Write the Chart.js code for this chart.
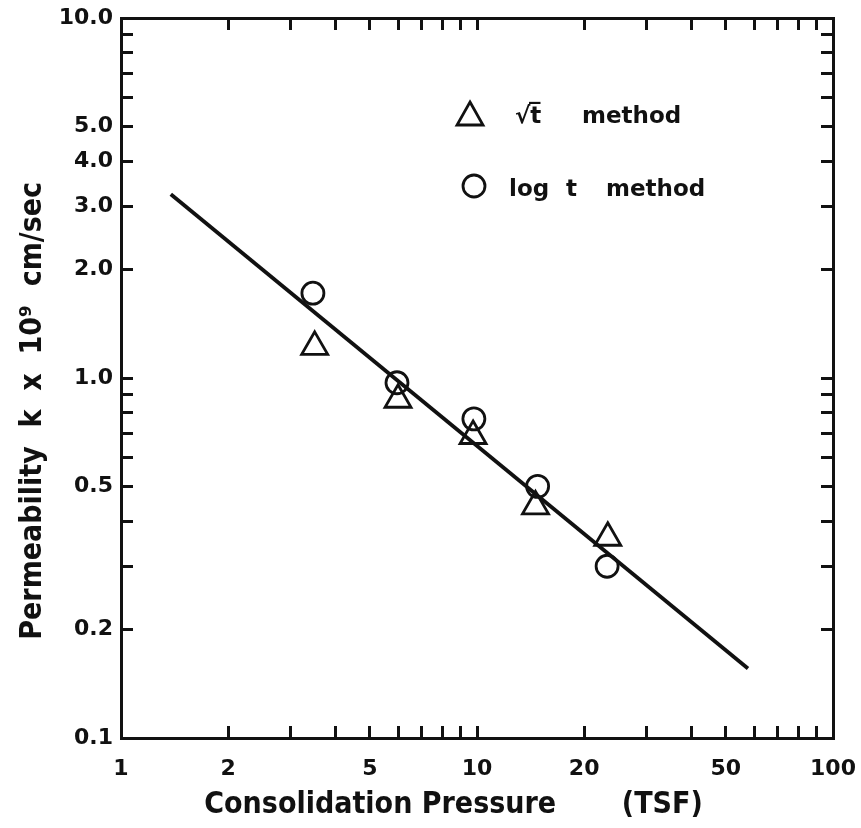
<!DOCTYPE html>
<html>
<head>
<meta charset="utf-8">
<script src="https://cdn.jsdelivr.net/npm/chart.js@4.4.1/dist/chart.umd.min.js"></script>
<style>
  body { margin: 0; background: #fff; }
</style>
</head>
<body>
<canvas id="permChart" width="861" height="828"></canvas>
<script>
// data (log-log)
const sqrtPressure = [3.5, 6.0, 9.75, 14.6, 23.3];
const sqrtPerm = [1.22, 0.87, 0.69, 0.44, 0.36];
const logPressure = [3.46, 5.96, 9.8, 14.8, 23.2];
const logPerm = [1.72, 0.97, 0.77, 0.50, 0.30];
const fitPressure = [1.38, 57.7];
const fitPerm = [3.24, 0.156];

const xTicks = [1, 2, 3, 4, 5, 6, 7, 8, 9, 10, 20, 30, 40, 50, 60, 70, 80, 90, 100];
const xLabels = [1, 2, 5, 10, 20, 50, 100];
const yTicks = [0.1, 0.2, 0.3, 0.4, 0.5, 0.6, 0.7, 0.8, 0.9, 1, 2, 3, 4, 5, 6, 7, 8, 9, 10];
const yLabels = [0.1, 0.2, 0.5, 1, 2, 3, 4, 5, 10];

const ink = "#111";
const numFont = { family: "DejaVu Sans", size: 22, weight: "bold" };
const titleFont = { family: "'DejaVu Sans Condensed', 'DejaVu Sans'", size: 30, weight: "bold" };

function pairs(xs, ys) {
  return xs.map((x, i) => ({ x: x, y: ys[i] }));
}

// fixed axis size, and no extra room for overhanging labels
function fixSize(w, h) {
  return (s) => {
    if (w !== null) s.width = w;
    if (h !== null) s.height = h;
    s.paddingLeft = s.paddingRight = s.paddingTop = s.paddingBottom = 0;
  };
}

// inward ticks on every side, no grid
const tickGrid = { drawOnChartArea: false, tickLength: -12, tickWidth: 3, tickColor: ink };
const frame = { display: true, width: 3, color: ink };

// key in the upper right of the plot
const keyPlugin = {
  id: "key",
  afterDraw(chart) {
    const ctx = chart.ctx;
    ctx.save();
    ctx.strokeStyle = ink;
    ctx.lineWidth = 2.8;
    ctx.beginPath();
    ctx.moveTo(470, 102);
    ctx.lineTo(483, 125);
    ctx.lineTo(457, 125);
    ctx.closePath();
    ctx.stroke();
    ctx.beginPath();
    ctx.arc(474, 186, 11, 0, Math.PI * 2);
    ctx.stroke();
    ctx.fillStyle = ink;
    ctx.font = "bold 23px 'DejaVu Sans'";
    ctx.textBaseline = "alphabetic";
    ctx.fillText("\u221At\u0305", 515, 123);
    ctx.fillText("method", 582, 123);
    ctx.fillText("log", 509, 196);
    ctx.fillText("t", 566, 196);
    ctx.fillText("method", 606, 196);
    ctx.restore();
  }
};

new Chart(document.getElementById("permChart"), {
  type: "scatter",
  data: {
    datasets: [
      {
        label: "fit",
        data: pairs(fitPressure, fitPerm),
        showLine: true,
        borderColor: ink,
        borderWidth: 3.8,
        pointRadius: 0,
      },
      {
        label: "\u221At method",
        data: pairs(sqrtPressure, sqrtPerm),
        pointStyle: "triangle",
        pointRadius: 15,
        borderColor: ink,
        borderWidth: 2.8,
        backgroundColor: "rgba(0,0,0,0)",
      },
      {
        label: "log t method",
        data: pairs(logPressure, logPerm),
        pointStyle: "circle",
        pointRadius: 11,
        borderColor: ink,
        borderWidth: 2.8,
        backgroundColor: "rgba(0,0,0,0)",
      },
    ],
  },
  options: {
    responsive: false,
    animation: false,
    devicePixelRatio: 1,
    layout: { padding: { top: 18, right: 28, left: 0, bottom: 0 } },
    plugins: { legend: { display: false }, tooltip: { enabled: false } },
    scales: {
      x: {
        type: "logarithmic",
        position: "bottom",
        min: 1,
        max: 100,
        afterBuildTicks: (s) => { s.ticks = xTicks.map((v) => ({ value: v })); },
        afterFit: fixSize(null, 90),
        grid: tickGrid,
        border: frame,
        ticks: {
          autoSkip: false,
          maxRotation: 0,
          padding: 30,
          color: ink,
          font: numFont,
          callback: (v) => (xLabels.includes(v) ? String(v) : ""),
        },
        title: {
          display: true,
          text: "Consolidation Pressure       (TSF)     ",
          color: ink,
          font: titleFont,
          padding: { top: 0, bottom: 5 },
        },
      },
      x2: {
        type: "logarithmic",
        position: "top",
        min: 1,
        max: 100,
        afterBuildTicks: (s) => { s.ticks = xTicks.map((v) => ({ value: v })); },
        afterFit: fixSize(null, 0),
        grid: tickGrid,
        border: frame,
        ticks: { display: false },
      },
      y: {
        type: "logarithmic",
        position: "left",
        min: 0.1,
        max: 10,
        afterBuildTicks: (s) => { s.ticks = yTicks.map((v) => ({ value: v })); },
        afterFit: fixSize(121, null),
        grid: tickGrid,
        border: frame,
        ticks: {
          autoSkip: false,
          padding: 20,
          color: ink,
          font: numFont,
          callback: (v) => (yLabels.includes(v) ? v.toFixed(1) : ""),
        },
        title: {
          display: true,
          text: "Permeability  k  x  10\u2079  cm/sec       ",
          color: ink,
          font: titleFont,
          padding: { top: 15, bottom: 0 },
        },
      },
      y2: {
        type: "logarithmic",
        position: "right",
        min: 0.1,
        max: 10,
        afterBuildTicks: (s) => { s.ticks = yTicks.map((v) => ({ value: v })); },
        afterFit: fixSize(0, null),
        grid: tickGrid,
        border: frame,
        ticks: { display: false },
      },
    },
  },
  plugins: [keyPlugin],
});
</script>
</body>
</html>
